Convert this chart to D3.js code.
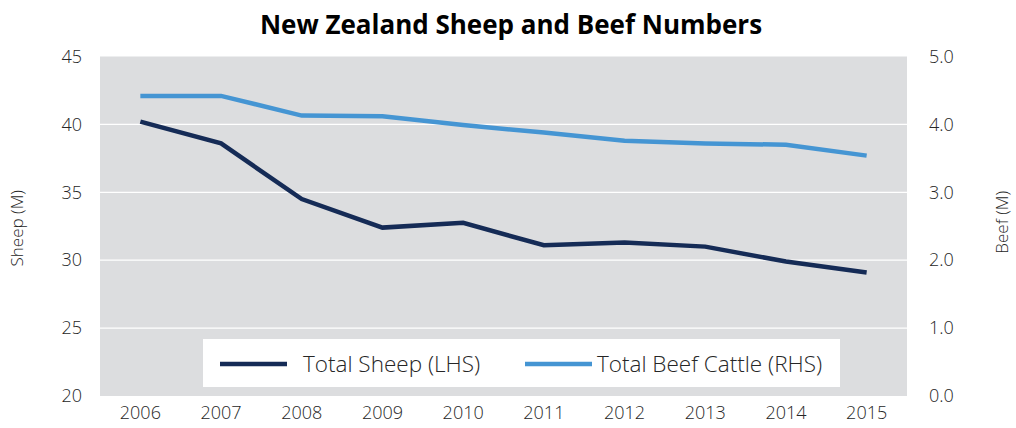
<!DOCTYPE html>
<html lang="en">
<head>
<meta charset="UTF-8">
<title>New Zealand Sheep and Beef Numbers</title>
<script src="https://d3js.org/d3.v7.min.js"></script>
<style>
  body { margin: 0; background: #fff; }
  text { font-family: "Open Sans", "Noto Sans", sans-serif; }
</style>
</head>
<body>
<div id="chart"></div>
<script>
    // data
    let years = ["2006","2007","2008","2009","2010","2011","2012","2013","2014","2015"],
        sheep = [40.2, 38.6, 34.5, 32.4, 32.75, 31.1, 31.3, 31.0, 29.9, 29.1],
        beef  = [4.42, 4.42, 4.13, 4.12, 3.99, 3.88, 3.76, 3.72, 3.70, 3.54],
        leftTicks = [20, 25, 30, 35, 40, 45],
        rightTicks = [0, 1, 2, 3, 4, 5];

    let W = 1016, H = 428,
        m = {left: 100, right: 109, top: 56.5, bottom: 32},
        pw = W - m.left - m.right, ph = H - m.top - m.bottom;

    let svg = d3.select('#chart').append('svg').attr('width', W).attr('height', H);

    let x = d3.scaleBand().domain(years).range([m.left, m.left + pw]),
        yL = d3.scaleLinear().domain([20, 45]).range([m.top + ph, m.top]),
        yR = d3.scaleLinear().domain([0, 5]).range([m.top + ph, m.top]);

    // plot background
    svg.append('rect').attr('x', m.left).attr('y', m.top).attr('width', pw).attr('height', ph)
        .attr('fill', '#dcdddf');

    // gridlines
    svg.append('g').selectAll('line').data(leftTicks.filter(t => t > 20 && t < 45)).enter().append('line')
        .attr('x1', m.left).attr('x2', m.left + pw)
        .attr('y1', d => yL(d)).attr('y2', d => yL(d))
        .attr('stroke', '#fff').attr('stroke-width', 1.2);

    // axes (text only)
    let axL = svg.append('g').attr('transform', `translate(${m.left},0)`)
        .call(d3.axisLeft(yL).tickValues(leftTicks).tickSize(0).tickPadding(18));
    let axR = svg.append('g').attr('transform', `translate(${m.left + pw},0)`)
        .call(d3.axisRight(yR).tickValues(rightTicks).tickSize(0).tickPadding(22).tickFormat(d3.format('.1f')));
    let axB = svg.append('g').attr('transform', `translate(0,${m.top + ph})`)
        .call(d3.axisBottom(x).tickSize(0).tickPadding(10));
    [axL, axR, axB].forEach(a => {
        a.select('.domain').remove();
        a.selectAll('text').attr('font-size', 18).attr('fill', '#262626')
            .attr('font-family', '"Open Sans", sans-serif').attr('font-weight', 300);
    });

    // lines
    let cx = d => x(d) + x.bandwidth() / 2;
    svg.append('path').datum(beef)
        .attr('d', d3.line().x((d, i) => cx(years[i])).y(d => yR(d)))
        .attr('fill', 'none').attr('stroke', '#4595d3').attr('stroke-width', 4.5);
    svg.append('path').datum(sheep)
        .attr('d', d3.line().x((d, i) => cx(years[i])).y(d => yL(d)))
        .attr('fill', 'none').attr('stroke', '#152b56').attr('stroke-width', 4.5);

    // legend
    let lg = svg.append('g');
    lg.append('rect').attr('x', 203).attr('y', 339).attr('width', 637).attr('height', 48).attr('fill', '#fff');
    let items = [{name: 'Total Sheep (LHS)', color: '#152b56', x: 220, tx: 303},
                 {name: 'Total Beef Cattle (RHS)', color: '#4595d3', x: 525, tx: 597}];
    items.forEach(it => {
        lg.append('line').attr('x1', it.x).attr('x2', it.x + 67).attr('y1', 364).attr('y2', 364)
            .attr('stroke', it.color).attr('stroke-width', 4.5);
        lg.append('text').attr('x', it.tx).attr('y', 372).text(it.name)
            .attr('font-size', 22.5).attr('font-weight', 300).attr('fill', '#262626');
    });

    // titles
    svg.append('text').attr('x', 511).attr('y', 34).attr('text-anchor', 'middle')
        .attr('font-size', 26).attr('font-weight', 700).attr('fill', '#000')
        .text('New Zealand Sheep and Beef Numbers');
    svg.append('text').attr('transform', `translate(23,${m.top + ph / 2 + 2}) rotate(-90)`)
        .attr('text-anchor', 'middle').attr('font-size', 17).attr('font-weight', 300).attr('fill', '#262626')
        .text('Sheep (M)');
    svg.append('text').attr('transform', `translate(1008,${m.top + ph / 2 - 4}) rotate(-90)`)
        .attr('text-anchor', 'middle').attr('font-size', 17).attr('font-weight', 300).attr('fill', '#262626')
        .text('Beef (M)');
</script>
</body>
</html>
